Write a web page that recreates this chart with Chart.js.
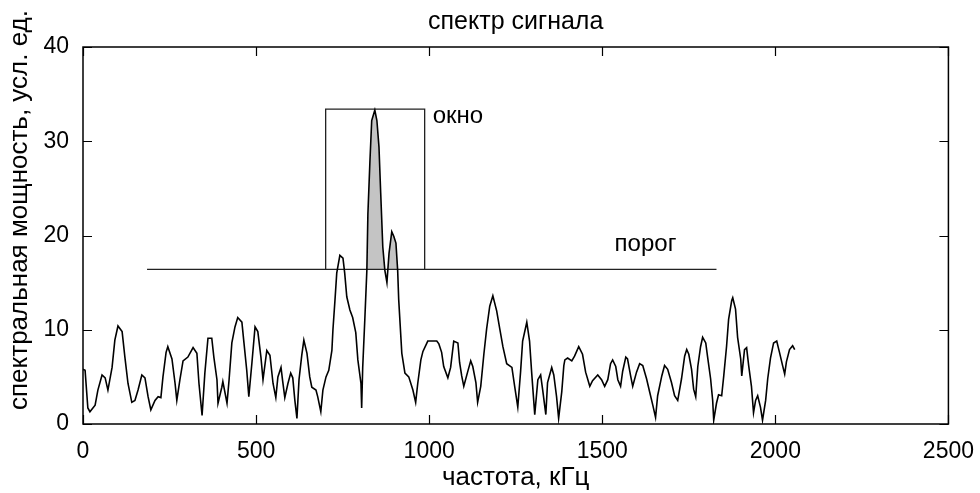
<!DOCTYPE html>
<html>
<head>
<meta charset="utf-8">
<script src="https://cdn.jsdelivr.net/npm/chart.js@4/dist/chart.umd.min.js"></script>
<style>
  html, body { margin: 0; padding: 0; background: #fff; }
  #wrap { width: 980px; height: 493px; }
</style>
</head>
<body>
<div id="wrap"><canvas id="spectrum"></canvas></div>
<script>
// частота, кГц
const freq = [
  0, 6, 14, 20, 35, 43, 55, 64, 72, 84, 92, 101, 113, 121, 130, 141, 150, 159, 170, 179,
  188, 196, 208, 217, 225, 231, 240, 245, 257, 266, 271, 280, 289, 303, 318, 329, 335, 344, 352, 361,
  372, 378, 387, 390, 401, 404, 416, 422, 430, 439, 447, 459, 465, 473, 479, 488, 497, 505, 514, 520,
  531, 540, 549, 557, 563, 572, 577, 583, 592, 600, 606, 612, 618, 624, 632, 638, 647, 655, 661, 673,
  678, 687, 693, 702, 710, 719, 722, 728, 733, 742, 751, 756, 762, 771, 779, 788, 794, 803, 805, 808,
  814, 820, 823, 829, 834, 843, 849, 855, 860, 866, 872, 878, 884, 892, 898, 904, 909, 912, 921, 930,
  941, 953, 961, 967, 976, 982, 996, 1022, 1028, 1036, 1042, 1054, 1062, 1071, 1083, 1088, 1094, 1100, 1111, 1120,
  1126, 1135, 1140, 1149, 1158, 1166, 1175, 1184, 1195, 1204, 1213, 1224, 1239, 1247, 1256, 1264, 1270, 1282, 1290, 1296,
  1305, 1314, 1322, 1328, 1337, 1342, 1354, 1360, 1368, 1374, 1383, 1389, 1392, 1400, 1412, 1420, 1432, 1443, 1452, 1464,
  1472, 1487, 1498, 1507, 1516, 1524, 1530, 1539, 1545, 1553, 1559, 1568, 1573, 1582, 1588, 1599, 1608, 1617, 1628, 1637,
  1646, 1654, 1660, 1672, 1680, 1689, 1700, 1709, 1718, 1729, 1738, 1744, 1750, 1758, 1764, 1770, 1776, 1784, 1790, 1799,
  1804, 1813, 1819, 1822, 1830, 1836, 1845, 1851, 1859, 1865, 1874, 1877, 1885, 1891, 1900, 1903, 1911, 1917, 1923, 1931,
  1937, 1943, 1949, 1957, 1963, 1972, 1978, 1986, 1995, 2004, 2012, 2021, 2027, 2032, 2041, 2050, 2056
];

// спектральная мощность, усл. ед.
const power = [
  5.8, 5.7, 1.7, 1.3, 2.0, 3.6, 5.2, 4.9, 3.6, 6.0, 8.9, 10.4, 9.8, 7.1, 4.3, 2.3, 2.5, 3.6, 5.2, 4.9,
  2.9, 1.5, 2.5, 2.9, 2.8, 5.0, 7.6, 8.2, 6.9, 4.3, 2.5, 4.7, 6.7, 7.1, 8.1, 7.5, 4.3, 0.9, 5.4, 9.1,
  9.1, 7.1, 4.7, 2.2, 3.9, 4.5, 2.2, 4.7, 8.6, 10.3, 11.3, 10.8, 8.6, 5.7, 2.9, 6.5, 10.3, 9.8, 7.1, 4.7,
  7.8, 7.3, 4.3, 2.8, 5.0, 6.0, 4.5, 2.8, 4.3, 5.4, 4.9, 2.5, 0.6, 4.7, 7.3, 8.9, 7.5, 5.0, 3.9, 3.6,
  2.9, 1.3, 3.6, 5.0, 5.7, 7.8, 10.0, 13.2, 16.0, 17.9, 17.6, 16.0, 13.5, 12.1, 11.3, 9.7, 6.8, 4.3, 1.7, 6.0,
  11.0, 16.3, 22.3, 28.0, 32.2, 33.3, 32.2, 29.4, 24.5, 18.8, 16.3, 15.0, 18.1, 20.4, 19.9, 19.2, 16.3, 13.2, 7.5, 5.4,
  5.0, 3.6, 2.3, 4.3, 6.8, 7.7, 8.8, 8.8, 8.5, 7.6, 6.1, 4.9, 6.0, 8.8, 8.6, 6.5, 5.1, 4.0, 5.5, 6.7,
  6.1, 4.4, 2.3, 4.0, 7.4, 10.1, 12.5, 13.6, 12.0, 10.1, 8.2, 6.4, 6.0, 4.0, 1.8, 5.5, 8.8, 10.8, 8.8, 5.5,
  1.0, 4.7, 5.2, 3.6, 1.0, 4.4, 6.0, 5.2, 2.9, 0.6, 3.4, 6.2, 6.8, 7.0, 6.7, 7.2, 8.2, 7.4, 5.5, 4.0,
  4.6, 5.2, 4.7, 4.0, 4.7, 6.4, 6.8, 6.1, 4.7, 4.0, 5.6, 7.1, 6.9, 5.1, 4.0, 5.5, 6.4, 6.2, 4.8, 3.4,
  2.0, 0.7, 3.0, 5.1, 6.2, 5.8, 4.4, 3.0, 2.5, 4.8, 7.2, 7.9, 7.4, 5.8, 3.7, 2.9, 6.1, 8.2, 9.2, 8.6,
  7.2, 4.8, 2.5, 0.4, 2.2, 3.1, 3.0, 5.1, 8.2, 11.1, 13.1, 13.4, 12.2, 9.2, 6.9, 5.1, 7.9, 8.1, 6.2, 4.0,
  1.2, 2.5, 3.0, 1.8, 0.4, 2.5, 4.8, 7.0, 8.6, 8.8, 7.6, 6.2, 5.3, 6.6, 7.9, 8.3, 7.9
];

// порог и окно
const thresholdLevel = 16.4;
const thresholdFrom = 185;
const thresholdTo = 1830;
const windowFrom = 701;
const windowTo = 987;
const windowTop = 33.4;
// участок спектра, закрашенный выше порога
const shadeFrom = 805;
const shadeTo = 915;

const xTicks = [0, 500, 1000, 1500, 2000, 2500];
const yTicks = [0, 10, 20, 30, 40];

const FONT = '"Liberation Sans", Arial, sans-serif';

const spectrumPts = freq.map((f, i) => ({ x: f, y: power[i] }));
const shadePts = spectrumPts.filter(p => p.x >= shadeFrom && p.x <= shadeTo);
const thresholdPts = [{ x: thresholdFrom, y: thresholdLevel }, { x: thresholdTo, y: thresholdLevel }];
const windowPts = [
  { x: windowFrom, y: thresholdLevel }, { x: windowFrom, y: windowTop },
  { x: windowTo, y: windowTop }, { x: windowTo, y: thresholdLevel }
];

// рамка осей с внутренними засечками, заголовки и подписи "окно", "порог"
const axesBox = {
  id: 'axesBox',
  afterDatasetsDraw(chart) {
    const { ctx, chartArea: a, scales: { x, y } } = chart;
    const tick = 9;
    ctx.save();
    ctx.strokeStyle = '#000';
    ctx.lineWidth = 1.5;
    ctx.strokeRect(a.left, a.top, a.right - a.left, a.bottom - a.top);
    ctx.beginPath();
    xTicks.forEach(v => {
      const px = Math.round(x.getPixelForValue(v)) + 0.5;
      ctx.moveTo(px, a.bottom); ctx.lineTo(px, a.bottom - tick);
      ctx.moveTo(px, a.top); ctx.lineTo(px, a.top + tick);
    });
    yTicks.forEach(v => {
      const py = Math.round(y.getPixelForValue(v)) + 0.5;
      ctx.moveTo(a.left, py); ctx.lineTo(a.left + tick, py);
      ctx.moveTo(a.right, py); ctx.lineTo(a.right - tick, py);
    });
    ctx.lineWidth = 1.2;
    ctx.stroke();

    ctx.fillStyle = '#000';
    ctx.textBaseline = 'middle';
    ctx.font = '24px ' + FONT;
    ctx.textAlign = 'left';
    ctx.fillText('окно', x.getPixelForValue(1010), y.getPixelForValue(32.6));
    ctx.textAlign = 'center';
    ctx.fillText('порог', x.getPixelForValue(1625), y.getPixelForValue(19.1));

    const cx = (a.left + a.right) / 2;
    ctx.font = '25px ' + FONT;
    ctx.fillText('спектр сигнала', cx, 22);
    ctx.font = '26px ' + FONT;
    ctx.fillText('частота, кГц', cx, 478);
    ctx.translate(20, 210);
    ctx.rotate(-Math.PI / 2);
    ctx.fillText('спектральная мощность, усл. ед.', 0, 0);
    ctx.restore();
  }
};

new Chart(document.getElementById('spectrum'), {
  type: 'line',
  data: {
    datasets: [
      {
        data: shadePts,
        borderWidth: 0,
        pointRadius: 0,
        fill: { target: { value: thresholdLevel }, above: '#c4c4c4', below: 'rgba(0,0,0,0)' },
        order: 3
      },
      {
        data: thresholdPts,
        borderColor: '#222',
        borderWidth: 1.3,
        pointRadius: 0,
        fill: false,
        order: 2
      },
      {
        data: windowPts,
        borderColor: '#222',
        borderWidth: 1.3,
        pointRadius: 0,
        fill: false,
        order: 2
      },
      {
        data: spectrumPts,
        borderColor: '#000',
        borderWidth: 1.6,
        pointRadius: 0,
        tension: 0,
        fill: false,
        order: 1
      }
    ]
  },
  options: {
    responsive: true,
    maintainAspectRatio: false,
    animation: false,
    events: [],
    layout: { padding: { left: 0, right: 31, top: 47, bottom: 0 } },
    plugins: {
      legend: { display: false },
      tooltip: { enabled: false },
      title: { display: false }
    },
    scales: {
      x: {
        type: 'linear',
        min: 0,
        max: 2500,
        grid: { display: false },
        border: { display: false },
        afterBuildTicks: s => { s.ticks = xTicks.map(v => ({ value: v })); },
        afterFit: s => { s.height = 69; },
        ticks: {
          color: '#000',
          padding: 6,
          maxRotation: 0,
          callback: v => String(v),
          font: { family: FONT, size: 23 }
        }
      },
      y: {
        min: 0,
        max: 40,
        grid: { display: false },
        border: { display: false },
        afterBuildTicks: s => { s.ticks = yTicks.map(v => ({ value: v })); },
        afterFit: s => { s.width = 83; },
        ticks: {
          color: '#000',
          padding: 6,
          callback: v => String(v),
          font: { family: FONT, size: 23 }
        }
      }
    }
  },
  plugins: [axesBox]
});
</script>
</body>
</html>
